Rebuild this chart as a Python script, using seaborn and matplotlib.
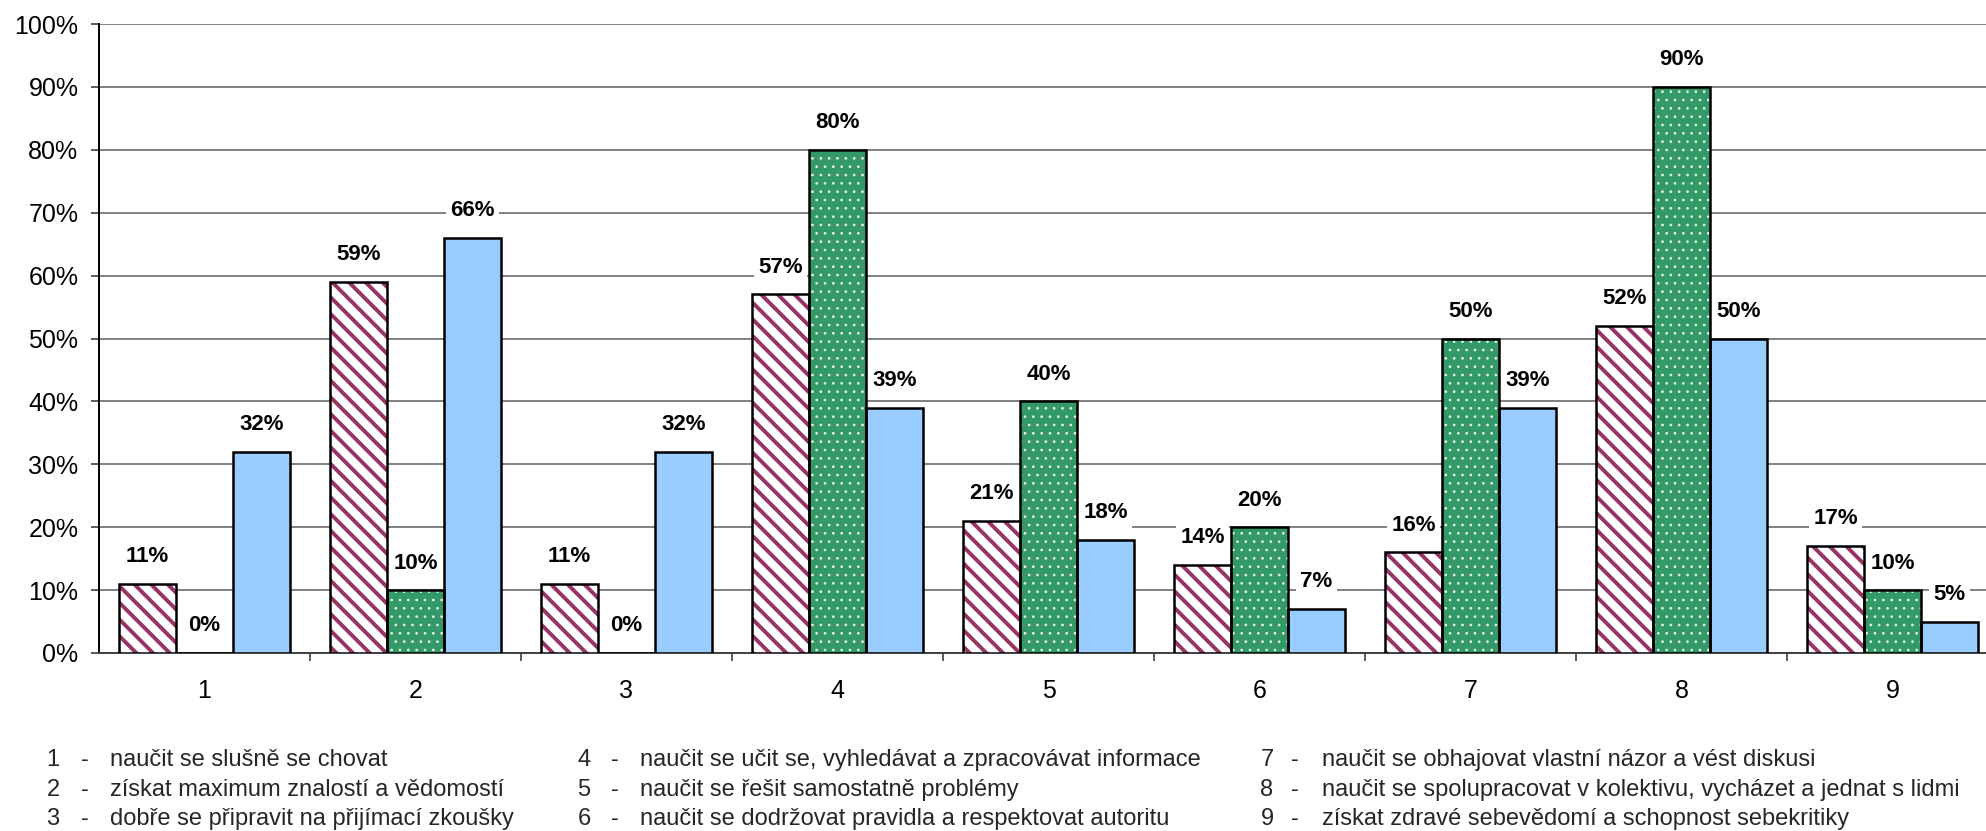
import matplotlib
matplotlib.use('Agg')
import matplotlib.pyplot as plt
import seaborn as sns
import pandas as pd
import numpy as np
from matplotlib.patches import Rectangle

# ---------------- data ----------------
categories = ['1', '2', '3', '4', '5', '6', '7', '8', '9']
series_names = ['řada 1', 'řada 2', 'řada 3']
values_a = [11, 59, 11, 57, 21, 14, 16, 52, 17]
values_b = [0, 10, 0, 80, 40, 20, 50, 90, 10]
values_c = [32, 66, 32, 39, 18, 7, 39, 50, 5]
y_ticks = [0, 10, 20, 30, 40, 50, 60, 70, 80, 90, 100]
y_tick_labels = [f'{t}%' for t in y_ticks]
legend_numbers = ['1', '2', '3', '4', '5', '6', '7', '8', '9']
legend_texts = [
    'naučit se slušně se chovat',
    'získat maximum znalostí a vědomostí',
    'dobře se připravit na přijímací zkoušky',
    'naučit se učit se, vyhledávat a zpracovávat informace',
    'naučit se řešit samostatně problémy',
    'naučit se dodržovat pravidla a respektovat autoritu',
    'naučit se obhajovat vlastní názor a vést diskusi',
    'naučit se spolupracovat v kolektivu, vycházet a jednat s lidmi',
    'získat zdravé sebevědomí a schopnost sebekritiky',
]

# ---------------- style ----------------
sns.set_theme(style='white')
plt.rcParams['font.family'] = ['Liberation Sans', 'DejaVu Sans']
plt.rcParams['hatch.linewidth'] = 2.8

W, H = 1986, 831
fig = plt.figure(figsize=(W / 100, H / 100), dpi=100)
ax = fig.add_axes([99 / W, 178 / H, 1899 / W, 629 / H])

df = pd.DataFrame({
    'kategorie': categories * 3,
    'řada': np.repeat(series_names, len(categories)),
    'hodnota': values_a + values_b + values_c,
})

sns.barplot(data=df, x='kategorie', y='hodnota', hue='řada',
            order=categories, hue_order=series_names,
            palette=['#FFFFFF', '#339966', '#99CCFF'],
            width=0.81, gap=0, dodge=True, legend=False,
            errorbar=None, saturation=1, ax=ax, zorder=3)

hatch_styles = ['\\\\', '..', None]
hatch_colors = ['#993366', '#E8F4EC', None]
hatch_widths = [2.8, 0.7, None]
for cont, h, hc, hw in zip(ax.containers, hatch_styles, hatch_colors, hatch_widths):
    for bar in cont:
        if h:
            bar.set_hatch(h)
            bar.set_edgecolor(hc)
            bar.set_linewidth(0)
            if hasattr(bar, 'set_hatch_linewidth'):
                bar.set_hatch_linewidth(hw)
            outline = Rectangle(bar.get_xy(), bar.get_width(), bar.get_height(),
                                fill=False, edgecolor='black', linewidth=1.8,
                                zorder=4)
            ax.add_patch(outline)
        else:
            bar.set_edgecolor('black')
            bar.set_linewidth(1.8)

# value labels
for cont, vals in zip(ax.containers, [values_a, values_b, values_c]):
    for bar, v in zip(cont, vals):
        ax.annotate(f'{v}%', xy=(bar.get_x() + bar.get_width() / 2, bar.get_height()),
                    xytext=(0, 19.5), textcoords='offset points',
                    ha='center', va='center', fontsize=16, fontweight='bold',
                    color='black',
                    bbox=dict(boxstyle='square,pad=0.2', fc='white', ec='none'),
                    zorder=6)

# axes
ax.set_xlim(-0.5, len(categories) - 0.5)
ax.set_ylim(0, 100)
ax.set_yticks(y_ticks)
ax.set_yticklabels(y_tick_labels, fontsize=18)
ax.set_xticks(range(len(categories)))
ax.set_xticklabels(categories, fontsize=18)
ax.set_xticks(np.arange(0.5, len(categories), 1), minor=True)
ax.set_xlabel('')
ax.set_ylabel('')

ax.yaxis.grid(True, color='#808080', linewidth=1.4, zorder=0)
ax.set_axisbelow(True)

ax.tick_params(axis='y', which='major', direction='out', length=5.8, width=1.2,
               color='#404040', pad=9, left=True, labelcolor='black')
ax.tick_params(axis='x', which='major', length=0, pad=19, labelcolor='black')
ax.tick_params(axis='x', which='minor', direction='out', length=5.8, width=1.2,
               color='#404040', bottom=True)

for side in ['top', 'right']:
    ax.spines[side].set_visible(False)
ax.spines['left'].set_color('black')
ax.spines['left'].set_linewidth(1.4)
ax.spines['bottom'].set_color('#404040')
ax.spines['bottom'].set_linewidth(1.4)

# bottom text key
col_x = [(53, 85, 110), (584, 615, 640), (1267, 1295, 1322)]
row_y = [760, 790, 819]
for i, (num, txt) in enumerate(zip(legend_numbers, legend_texts)):
    c, r = divmod(i, 3)
    xn, xd, xt = col_x[c]
    y = 1 - row_y[r] / H
    fig.text(xn / W, y, num, ha='center', va='center', fontsize=17)
    fig.text(xd / W, y, '-', ha='center', va='center', fontsize=17)
    fig.text(xt / W, y, txt, ha='left', va='center', fontsize=17)

fig.savefig('out.png', dpi=100, facecolor='white')
